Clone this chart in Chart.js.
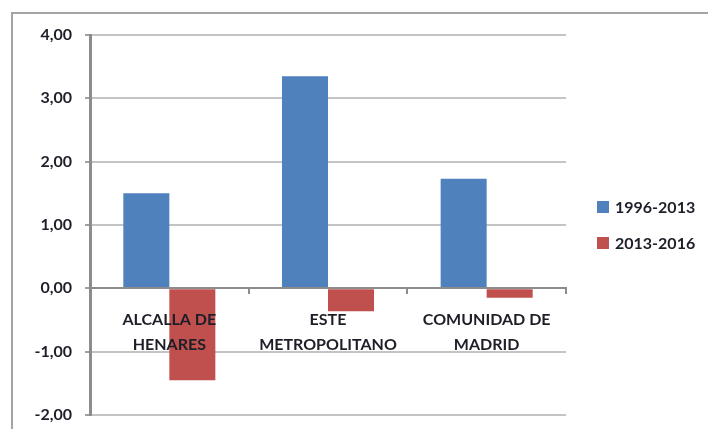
<!DOCTYPE html>
<html>
<head>
<meta charset="utf-8">
<script src="https://cdn.jsdelivr.net/npm/chart.js@4/dist/chart.umd.min.js"></script>
<style>
  html, body { margin: 0; padding: 0; background: #fff; }
  #wrap { width: 708px; height: 429px; position: relative; }
</style>
</head>
<body>
<div id="wrap"><canvas id="chart" width="708" height="429"></canvas></div>
<script>
const categories = [['ALCALLA DE', 'HENARES'], ['ESTE', 'METROPOLITANO'], ['COMUNIDAD DE', 'MADRID']];
const seriesNames = ['1996-2013', '2013-2016'];
const values9613 = [1.50, 3.35, 1.73];
const values1316 = [-1.45, -0.36, -0.15];
const yMin = -2, yMax = 4, yStep = 1;

const colors = ['#4F81BD', '#C0504D'];
const textColor = '#1e1e28';
const fontFamily = 'Lato, "Liberation Sans", sans-serif';

// marco gris de la figura (solo se ven lados izq. y superior)
const framePlugin = {
    id: 'frame',
    beforeDraw(chart) {
        const ctx = chart.ctx;
        ctx.save();
        ctx.fillStyle = '#fff';
        ctx.fillRect(0, 0, chart.width, chart.height);
        ctx.strokeStyle = '#a4a4a4';
        ctx.lineWidth = 2;
        ctx.beginPath();
        ctx.moveTo(12, chart.height + 5);
        ctx.lineTo(12, 13);
        ctx.lineTo(chart.width + 5, 13);
        ctx.stroke();
        ctx.restore();
    }
};

// leyenda a la derecha, dibujada a mano
const legendPlugin = {
    id: 'sideLegend',
    afterDraw(chart) {
        const ctx = chart.ctx;
        ctx.save();
        ctx.font = 'bold 16px ' + fontFamily;
        ctx.textBaseline = 'middle';
        chart.data.datasets.forEach((ds, i) => {
            const y = 207 + i * 36;
            ctx.fillStyle = ds.backgroundColor;
            ctx.fillRect(597, y - 6, 12, 12);
            ctx.fillStyle = textColor;
            ctx.fillText(ds.label, 615, y + 1);
        });
        ctx.restore();
    }
};

new Chart(document.getElementById('chart').getContext('2d'), {
    type: 'bar',
    data: {
        labels: categories,
        datasets: [
            { label: seriesNames[0], data: values9613, backgroundColor: colors[0] },
            { label: seriesNames[1], data: values1316, backgroundColor: colors[1] }
        ]
    },
    options: {
        responsive: false,
        animation: false,
        devicePixelRatio: 1,
        layout: { padding: { left: 0, top: 35, right: 142, bottom: 14 } },
        datasets: { bar: { barPercentage: 1, categoryPercentage: 0.58 } },
        scales: {
            x: {
                position: { y: 0 },
                afterFit: s => { s.height = 0; s.paddingLeft = 0; s.paddingRight = 0; s.paddingTop = 0; s.paddingBottom = 0; },
                grid: { drawOnChartArea: false, drawTicks: true, tickLength: 5, color: '#8c8c8c', lineWidth: 2 },
                border: { color: '#8c8c8c', width: 2, z: 1 },
                ticks: {
                    z: 1,
                    color: textColor, padding: 14, maxRotation: 0, autoSkip: false,
                    font: { family: fontFamily, size: 16, weight: 'bold', lineHeight: 1.55 }
                }
            },
            y: {
                min: yMin, max: yMax,
                afterFit: s => { s.width = 90; s.paddingTop = 0; s.paddingBottom = 0; },
                grid: { color: '#c4c4c4', lineWidth: 2, tickLength: 5, tickColor: '#a0a0a0' },
                border: { color: '#8c8c8c', width: 3 },
                ticks: {
                    stepSize: yStep, color: textColor, padding: 13,
                    font: { family: fontFamily, size: 16, weight: 'bold' },
                    callback: v => v.toFixed(2).replace('.', ',')
                }
            }
        },
        plugins: {
            legend: { display: false },
            tooltip: { enabled: false }
        }
    },
    plugins: [framePlugin, legendPlugin]
});
</script>
</body>
</html>
